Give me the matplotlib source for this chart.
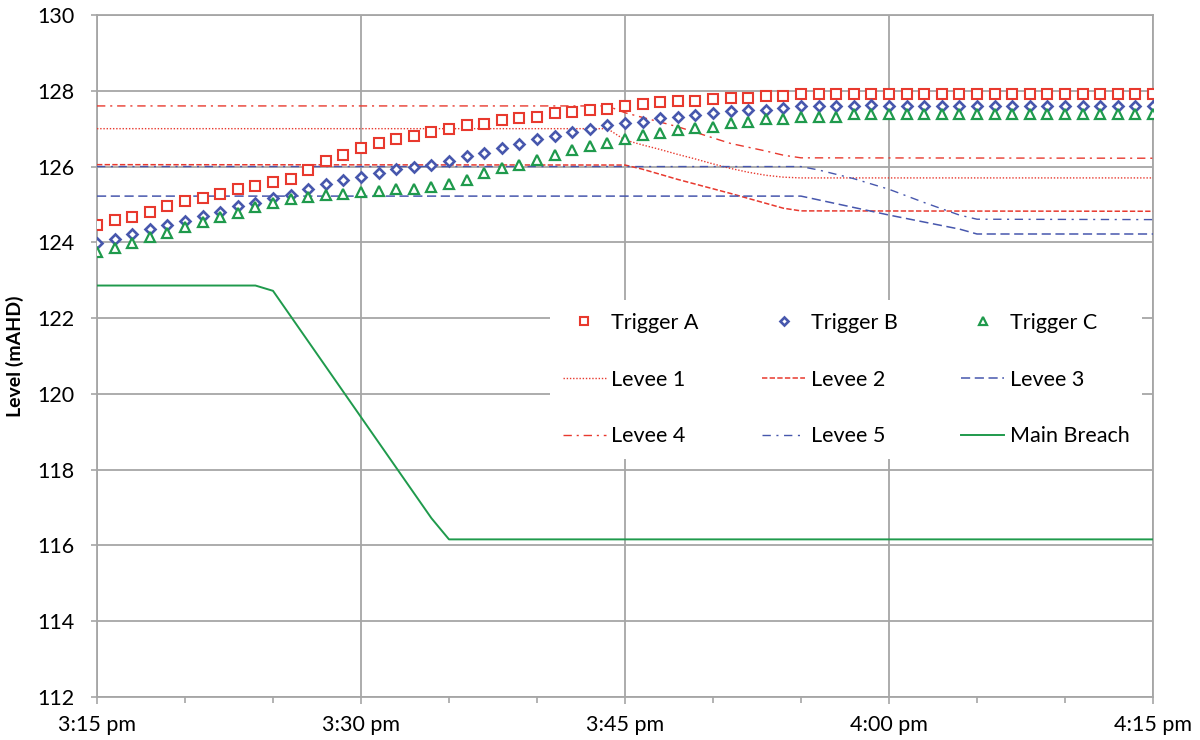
import numpy as np
import matplotlib
matplotlib.use("Agg")
import matplotlib.pyplot as plt
from matplotlib.ticker import FixedLocator, NullFormatter

plt.rcParams['font.family'] = ['Lato', 'DejaVu Sans']

# minutes after 3:15 pm
minutes = np.arange(0, 61)

trigger_a = [124.46, 124.59, 124.68, 124.81, 124.96, 125.08, 125.17, 125.27, 125.40, 125.49,
             125.59, 125.68, 125.91, 126.15, 126.31, 126.48, 126.63, 126.72, 126.81, 126.90,
             126.98, 127.09, 127.13, 127.23, 127.27, 127.30, 127.41, 127.45, 127.48, 127.53,
             127.60, 127.65, 127.70, 127.73, 127.73, 127.78, 127.80, 127.80, 127.86, 127.86,
             127.91, 127.91, 127.92, 127.92, 127.92, 127.92, 127.92, 127.92, 127.92, 127.92,
             127.92, 127.92, 127.92, 127.92, 127.92, 127.92, 127.92, 127.92, 127.92, 127.92,
             127.92]
trigger_b = [123.97, 124.08, 124.22, 124.35, 124.45, 124.57, 124.70, 124.81, 124.95, 125.03,
             125.18, 125.26, 125.40, 125.54, 125.65, 125.72, 125.82, 125.93, 126.00, 126.04,
             126.15, 126.28, 126.35, 126.48, 126.60, 126.72, 126.81, 126.91, 126.98, 127.10,
             127.14, 127.18, 127.27, 127.32, 127.36, 127.42, 127.47, 127.49, 127.49, 127.54,
             127.60, 127.60, 127.60, 127.60, 127.62, 127.60, 127.60, 127.61, 127.61, 127.61,
             127.61, 127.61, 127.61, 127.61, 127.61, 127.61, 127.61, 127.61, 127.61, 127.61,
             127.61]
trigger_c = [123.75, 123.84, 123.99, 124.15, 124.25, 124.41, 124.54, 124.68, 124.77, 124.94,
             125.03, 125.14, 125.20, 125.25, 125.28, 125.32, 125.36, 125.40, 125.40, 125.45,
             125.54, 125.65, 125.82, 125.95, 126.04, 126.17, 126.31, 126.44, 126.54, 126.63,
             126.72, 126.83, 126.88, 126.96, 127.01, 127.05, 127.16, 127.18, 127.25, 127.25,
             127.30, 127.32, 127.32, 127.39, 127.39, 127.39, 127.40, 127.40, 127.40, 127.40,
             127.40, 127.40, 127.40, 127.40, 127.40, 127.40, 127.40, 127.40, 127.40, 127.40,
             127.40]

levee1_t = [0, 29, 30, 31, 32, 33, 34, 35, 36, 37, 38, 39, 40, 60]
levee1_v = [127.0, 127.0, 126.70, 126.57, 126.45, 126.32, 126.20, 126.07, 125.95, 125.85,
            125.77, 125.72, 125.70, 125.70]
levee2_t = [0, 30, 31, 33, 36, 38, 39, 40, 60]
levee2_v = [126.05, 126.04, 125.93, 125.66, 125.29, 125.03, 124.90, 124.83, 124.82]
levee3_t = [0, 40, 45, 49, 50, 60]
levee3_v = [125.22, 125.22, 124.72, 124.35, 124.22, 124.22]
levee4_t = [0, 29, 30, 33, 36, 38, 39, 40, 60]
levee4_v = [127.6, 127.6, 127.42, 127.05, 126.61, 126.41, 126.30, 126.23, 126.22]
levee5_t = [0, 40, 41, 43, 45, 47, 49, 50, 60]
levee5_v = [126.0, 126.0, 125.91, 125.68, 125.40, 125.05, 124.72, 124.61, 124.60]
breach_t = [0, 9, 10, 19, 20, 60]
breach_v = [122.86, 122.86, 122.72, 116.72, 116.16, 116.16]

major_ticks = [0, 15, 30, 45, 60]
major_labels = ['3:15 pm', '3:30 pm', '3:45 pm', '4:00 pm', '4:15 pm']
minor_ticks = [5, 10, 20, 25, 35, 40, 50, 55]

RED = '#e8392e'
BLUE = '#4757ad'
GREEN = '#1f9a4c'
GRID = '#a6a6a6'

fig = plt.figure(figsize=(12, 7.4), dpi=100)
ax = fig.add_axes([97 / 1200, 43 / 740, 1056 / 1200, 682 / 740])

l1, = ax.plot(levee1_t, levee1_v, color=RED, lw=1.0, dashes=(1, 1.3), label='Levee 1', zorder=3)
l2, = ax.plot(levee2_t, levee2_v, color=RED, lw=1.1, dashes=(3.5, 1.5), label='Levee 2', zorder=3)
l3, = ax.plot(levee3_t, levee3_v, color=BLUE, lw=1.1, dashes=(6, 3), label='Levee 3', zorder=3)
l4, = ax.plot(levee4_t, levee4_v, color=RED, lw=1.0, dashes=(6, 3.5, 1.5, 3.5), label='Levee 4', zorder=3)
l5, = ax.plot(levee5_t, levee5_v, color=BLUE, lw=1.0, dashes=(6, 4, 1.5, 4), label='Levee 5', zorder=3)
mb, = ax.plot(breach_t, breach_v, color=GREEN, lw=1.4, label='Main Breach', zorder=3)

ta, = ax.plot(minutes, trigger_a, ls='none', marker='s', ms=7.5, mfc='white', mec=RED,
              mew=1.5, label='Trigger A', zorder=4)
tb, = ax.plot(minutes, trigger_b, ls='none', marker='D', ms=4.8, mfc='white', mec=BLUE,
              mew=1.9, label='Trigger B', zorder=4)
tc, = ax.plot(minutes, trigger_c, ls='none', marker='^', ms=6.5, mfc='white', mec=GREEN,
              mew=1.6, label='Trigger C', zorder=4)

ax.set_xlim(0, 60)
ax.set_ylim(112, 130)
ax.set_yticks(np.arange(112, 131, 2))
ax.xaxis.set_major_locator(FixedLocator(major_ticks))
ax.set_xticklabels(major_labels)
ax.xaxis.set_minor_locator(FixedLocator(minor_ticks))
ax.xaxis.set_minor_formatter(NullFormatter())

ax.grid(True, which='major', color=GRID, lw=1.3, zorder=0)
ax.set_axisbelow(True)
for s in ax.spines.values():
    s.set_color(GRID)
    s.set_linewidth(1.3)

ax.tick_params(axis='both', which='both', color=GRID, width=1.2, direction='out',
               labelsize=15.5, labelcolor='black')
ax.tick_params(axis='x', which='major', length=5, pad=8)
ax.tick_params(axis='x', which='minor', length=4.5)
ax.tick_params(axis='y', which='major', length=4.5, pad=12)
ax.set_ylabel('Level (mAHD)', fontsize=14, fontweight='bold', labelpad=9)

# row-wise order: Excel fills the legend by rows
handles = [ta, l1, l4, tb, l2, l5, tc, l3, mb]
leg = ax.legend(handles=handles, labels=[h.get_label() for h in handles], ncol=3,
                loc='upper left', bbox_to_anchor=(0.429, 0.582), borderaxespad=0,
                fontsize=15.5, frameon=True, fancybox=False, framealpha=1,
                facecolor='white', edgecolor='none', handlelength=2.0,
                handletextpad=0.25, columnspacing=2.95, labelspacing=1.7,
                borderpad=0.6, markerscale=0.8)
leg.set_zorder(5)

fig.savefig('out.png', dpi=100)
